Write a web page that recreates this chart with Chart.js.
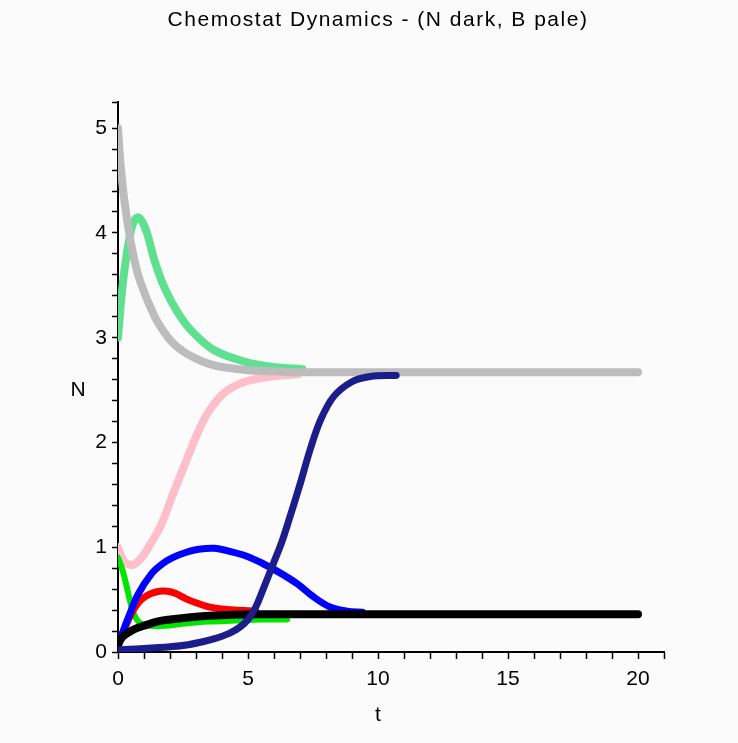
<!DOCTYPE html>
<html>
<head>
<meta charset="utf-8">
<script src="https://cdn.jsdelivr.net/npm/chart.js@4.4.1/dist/chart.umd.min.js"></script>
<style>
  html, body { margin: 0; padding: 0; background: #fbfbfb; }
  #wrap { width: 738px; height: 743px; }
</style>
</head>
<body>
<div id="wrap"><canvas id="chemostat" width="738" height="743"></canvas></div>
<script>
const titleText = "Chemostat Dynamics - (N dark, B pale)";
const xTitle = "t";
const yTitle = "N";
const xTickLabels = [0, 5, 10, 15, 20];
const yTickLabels = [0, 1, 2, 3, 4, 5];

// pale curves (B)
const tGray = [0, 0.1, 0.25, 0.5, 0.75, 1, 1.25, 1.5, 2, 2.5, 3, 3.5, 4, 5, 6, 7, 8, 10, 12, 15, 20];
const gray  = [5.0, 4.65, 4.3, 3.9, 3.62, 3.44, 3.29, 3.16, 2.98, 2.87, 2.8, 2.75, 2.72, 2.69, 2.68, 2.67, 2.67, 2.67, 2.67, 2.67, 2.67];

const tMint = [0, 0.1, 0.2, 0.35, 0.55, 0.75, 0.95, 1.15, 1.4, 1.8, 2.3, 2.85, 3.7, 4.9, 6, 7.1];
const mint  = [3.0, 3.3, 3.55, 3.82, 4.07, 4.15, 4.1, 3.97, 3.74, 3.47, 3.24, 3.06, 2.88, 2.77, 2.72, 2.7];

const tPink = [0, 0.15, 0.3, 0.54, 0.8, 1.15, 1.65, 2.12, 2.65, 3.08, 3.5, 4.12, 4.88, 5.92, 6.9];
const pink  = [1.0, 0.9, 0.85, 0.83, 0.87, 0.99, 1.21, 1.51, 1.84, 2.1, 2.3, 2.48, 2.58, 2.63, 2.65];

// dark curves (N)
const tGreen = [0, 0.15, 0.3, 0.45, 0.6, 0.75, 0.9, 1.2, 1.8, 2.5, 3.5, 4.5, 5.5, 6.5];
const green  = [0.9, 0.8, 0.66, 0.5, 0.37, 0.3, 0.27, 0.25, 0.25, 0.27, 0.29, 0.3, 0.31, 0.31];

const tRed = [0, 0.25, 0.5, 0.75, 1.0, 1.3, 1.6, 1.9, 2.2, 2.6, 3.0, 3.5, 4.0, 4.5, 5.3];
const red  = [0.08, 0.22, 0.36, 0.46, 0.52, 0.56, 0.58, 0.58, 0.56, 0.51, 0.47, 0.43, 0.41, 0.4, 0.39];

const tBlue = [0, 0.2, 0.4, 0.77, 1.3, 1.7, 2.1, 2.6, 3.1, 3.7, 4.3, 5.0, 5.6, 6.2, 6.9, 7.5, 8.15, 8.8, 9.4];
const blue  = [0.05, 0.2, 0.33, 0.55, 0.75, 0.84, 0.9, 0.95, 0.98, 0.99, 0.96, 0.91, 0.84, 0.76, 0.65, 0.53, 0.43, 0.39, 0.38];

const tBlack = [0, 0.1, 0.25, 0.5, 0.75, 1.0, 1.5, 2.0, 2.7, 3.5, 4.4, 5.5, 7, 10, 15, 20];
const black  = [0.07, 0.12, 0.16, 0.2, 0.23, 0.25, 0.29, 0.31, 0.33, 0.345, 0.355, 0.36, 0.36, 0.36, 0.36, 0.36];

const tNavy = [0, 0.8, 2, 2.7, 3.3, 3.75, 4.3, 4.7, 5.0, 5.3, 5.6, 6.0, 6.3, 6.6, 7.0, 7.4, 7.8, 8.3, 9.0, 9.7, 10.7];
const navy  = [0.02, 0.03, 0.05, 0.07, 0.1, 0.13, 0.18, 0.24, 0.31, 0.43, 0.61, 0.86, 1.05, 1.28, 1.6, 1.94, 2.22, 2.44, 2.58, 2.63, 2.64];

const FONT = '"Liberation Sans", Arial, sans-serif';

function pts(ts, vs) {
    return ts.map((t, i) => ({ x: t, y: vs[i] }));
}

function curve(ts, vs, color, order, width) {
    return {
        data: pts(ts, vs),
        borderColor: color,
        borderWidth: width || 7,
        borderCapStyle: "round",
        borderJoinStyle: "round",
        pointRadius: 0,
        tension: 0.35,
        fill: false,
        order: order
    };
}

const textPlugin = {
    id: "chemostatText",
    beforeDraw(chart) {
        const c = chart.ctx;
        c.save();
        c.fillStyle = "#fbfbfb";
        c.fillRect(0, 0, chart.width, chart.height);
        c.restore();
    },
    afterDraw(chart) {
        const c = chart.ctx;
        const xs = chart.scales.x;
        const ys = chart.scales.y;
        c.save();
        c.fillStyle = "#000";
        c.font = "21px " + FONT;
        c.textAlign = "center";
        c.textBaseline = "middle";
        c.letterSpacing = "1.5px";
        c.fillText(titleText, 378, 20);
        c.letterSpacing = "0px";
        c.fillText(yTitle, 78, ys.getPixelForValue(2.5));
        c.fillText(xTitle, xs.getPixelForValue(10), 715);
        c.restore();
    }
};

const ctx = document.getElementById("chemostat").getContext("2d");

new Chart(ctx, {
    type: "line",
    data: {
        datasets: [
            curve(tPink, pink, "#ffbfca", 8, 8),
            curve(tMint, mint, "#5fe091", 7, 8),
            curve(tGray, gray, "#bcbcbc", 6, 8),
            curve(tGreen, green, "#00e600", 5, 6),
            curve(tRed, red, "#ff0000", 4),
            curve(tBlue, blue, "#0000ff", 3),
            curve(tBlack, black, "#000000", 2, 8),
            curve(tNavy, navy, "#1c1c8a", 1)
        ]
    },
    options: {
        responsive: false,
        animation: false,
        events: [],
        layout: {
            padding: { left: 0, right: 74, top: 102, bottom: 0 }
        },
        plugins: {
            legend: { display: false },
            tooltip: { enabled: false },
            title: { display: false }
        },
        scales: {
            x: {
                type: "linear",
                min: 0,
                max: 21,
                afterFit: s => { s.height = 91; },
                ticks: {
                    stepSize: 1,
                    autoSkip: false,
                    maxRotation: 0,
                    padding: 8,
                    color: "#000",
                    font: { family: FONT, size: 21 },
                    callback: v => xTickLabels.includes(v) ? String(v) : ""
                },
                grid: {
                    drawOnChartArea: false,
                    drawTicks: true,
                    tickLength: 7,
                    tickWidth: 1.5,
                    tickColor: "#000"
                },
                border: { display: true, color: "#000", width: 2 }
            },
            y: {
                type: "linear",
                min: 0,
                max: 5.25,
                afterFit: s => { s.width = 118; },
                ticks: {
                    stepSize: 0.2,
                    autoSkip: false,
                    padding: 5,
                    color: "#000",
                    font: { family: FONT, size: 21 },
                    callback: v => {
                        const r = Math.round(v);
                        return Math.abs(v - r) < 1e-6 && yTickLabels.includes(r) ? String(r) : "";
                    }
                },
                grid: {
                    drawOnChartArea: false,
                    drawTicks: true,
                    tickLength: 6,
                    tickWidth: 1.5,
                    tickColor: "#000"
                },
                border: { display: true, color: "#000", width: 2 }
            }
        }
    },
    plugins: [textPlugin]
});
</script>
</body>
</html>
